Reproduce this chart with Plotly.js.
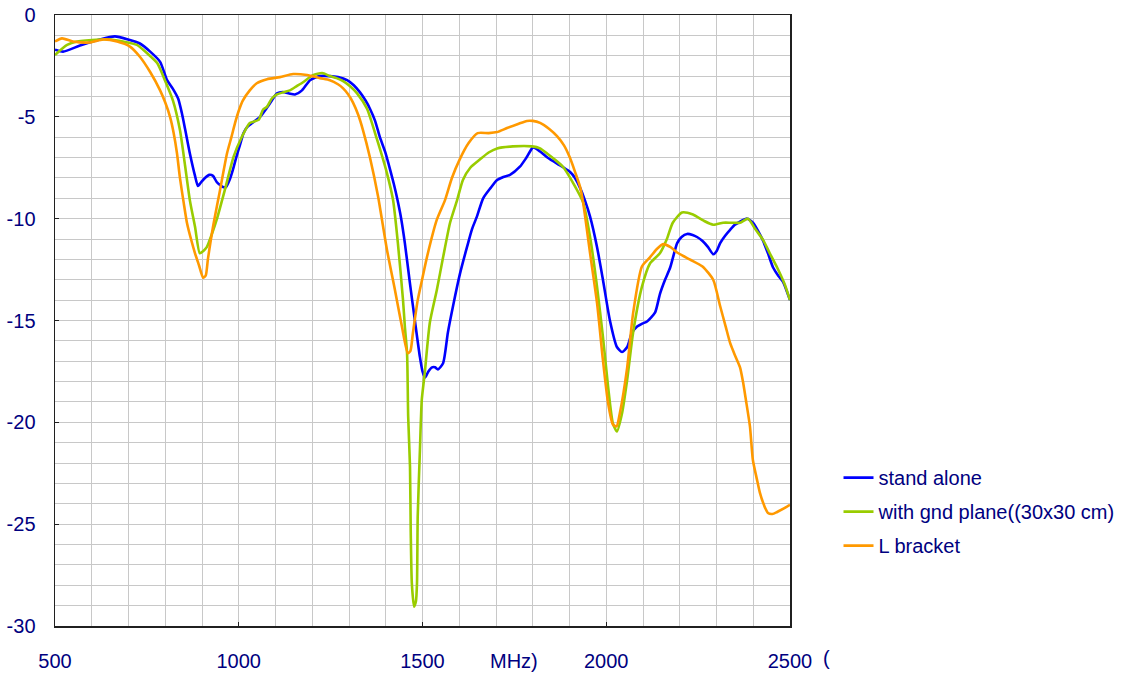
<!DOCTYPE html>
<html>
<head>
<meta charset="utf-8">
<script src="https://cdn.plot.ly/plotly-3.0.1.min.js"></script>
<style>html,body{margin:0;padding:0;background:#fff;}#chart{width:1134px;height:677px;}</style>
</head>
<body>
<div id="chart"></div>
<script>
// Frequency (MHz) and return loss (dB)
const standAloneF = [500,522,568,622,663,699,731,759,786,805,820,835,845,854,867,881,889,898,908,920,930,940,949,957,965,975,984,993,1003,1013,1023,1040,1058,1075,1090,1104,1120,1137,1153,1172,1194,1221,1248,1270,1295,1313,1330,1345,1357,1371,1384,1398,1412,1422,1431,1442,1452,1466,1480,1493,1500,1507,1516,1526,1534,1542,1556,1569,1583,1602,1621,1635,1648,1665,1685,1703,1720,1738,1765,1783,1801,1820,1840,1866,1885,1901,1915,1929,1942,1956,1975,1991,2010,2029,2043,2057,2070,2084,2098,2111,2133,2146,2160,2174,2193,2205,2220,2235,2247,2262,2277,2291,2300,2310,2323,2337,2350,2364,2383,2399,2413,2427,2440,2454,2468,2481,2500];
const standAloneDb = [-1.7,-1.8,-1.5,-1.2,-1.05,-1.2,-1.4,-1.8,-2.3,-3.2,-3.6,-4.1,-4.8,-5.6,-6.8,-7.9,-8.4,-8.2,-8.0,-7.85,-7.9,-8.2,-8.35,-8.45,-8.45,-8.1,-7.6,-7.0,-6.4,-5.8,-5.5,-5.25,-5.0,-4.6,-4.2,-3.85,-3.78,-3.85,-3.9,-3.7,-3.2,-3.0,-3.0,-3.05,-3.2,-3.45,-3.8,-4.2,-4.6,-5.2,-6.0,-6.7,-7.6,-8.3,-9.0,-10.0,-11.2,-13.2,-15.1,-16.8,-17.5,-17.8,-17.5,-17.3,-17.3,-17.4,-17.1,-15.6,-14.3,-12.7,-11.4,-10.5,-9.9,-9.0,-8.5,-8.1,-7.95,-7.85,-7.45,-7.0,-6.5,-6.7,-7.0,-7.3,-7.5,-7.7,-8.0,-8.5,-9.1,-9.9,-11.4,-13.0,-15.0,-16.3,-16.55,-16.3,-15.6,-15.3,-15.15,-15.05,-14.6,-13.7,-13.0,-12.4,-11.2,-10.9,-10.75,-10.8,-10.9,-11.1,-11.4,-11.75,-11.6,-11.2,-10.85,-10.55,-10.3,-10.15,-10.0,-10.2,-10.6,-11.1,-11.7,-12.4,-12.8,-13.1,-14.0];

const gndPlaneF = [500,533,560,622,650,685,723,750,778,799,821,840,854,867,881,894,903,913,926,940,962,986,1008,1030,1054,1066,1077,1090,1104,1120,1139,1157,1175,1202,1227,1248,1266,1284,1303,1322,1349,1376,1403,1420,1433,1447,1452,1458,1461,1466,1468,1471,1477,1482,1485,1487,1493,1498,1506,1520,1539,1556,1575,1594,1610,1630,1656,1680,1703,1746,1798,1820,1839,1860,1882,1910,1937,1956,1975,1991,2005,2018,2029,2043,2057,2073,2097,2119,2146,2165,2181,2206,2236,2265,2291,2318,2340,2364,2386,2405,2427,2445,2465,2485,2500];
const gndPlaneDb = [-1.96,-1.47,-1.3,-1.2,-1.2,-1.3,-1.47,-1.87,-2.36,-3.2,-4.2,-5.65,-7.4,-9.1,-10.4,-11.7,-11.6,-11.4,-10.8,-10.05,-8.6,-6.95,-6.0,-5.3,-5.15,-4.65,-4.5,-4.1,-3.9,-3.8,-3.7,-3.5,-3.3,-2.95,-2.85,-3.0,-3.1,-3.25,-3.5,-3.85,-4.6,-6.1,-7.75,-9.1,-11.2,-14.0,-15.3,-16.6,-19.7,-22.2,-25.4,-27.9,-29.05,-28.8,-27.9,-24.6,-21.35,-18.9,-17.6,-15.1,-13.5,-11.9,-10.2,-9.1,-8.1,-7.5,-7.1,-6.75,-6.55,-6.45,-6.45,-6.55,-6.8,-7.1,-7.45,-8.25,-9.2,-10.9,-13.35,-15.8,-18.25,-20.05,-20.45,-19.55,-17.9,-15.6,-13.35,-12.2,-11.7,-11.0,-10.2,-9.7,-9.8,-10.1,-10.3,-10.2,-10.2,-10.2,-10.0,-10.5,-11.05,-11.7,-12.4,-13.2,-14.0];

const lBracketF = [500,519,549,595,631,669,704,731,759,786,800,813,823,832,840,850,859,870,881,892,903,910,916,930,949,968,980,990,1000,1011,1030,1049,1077,1112,1148,1186,1221,1248,1270,1284,1298,1311,1325,1338,1357,1379,1403,1425,1444,1460,1467,1474,1487,1500,1512,1539,1561,1580,1601,1625,1650,1680,1703,1730,1760,1784,1800,1820,1845,1866,1885,1901,1915,1929,1937,1956,1975,1991,2005,2018,2028,2037,2057,2073,2097,2119,2137,2155,2175,2192,2227,2262,2291,2310,2325,2337,2350,2364,2372,2380,2391,2399,2410,2418,2430,2440,2452,2465,2486,2500];
const lBracketDb = [-1.3,-1.15,-1.3,-1.35,-1.2,-1.3,-1.55,-2.05,-2.8,-3.7,-4.3,-5.0,-5.8,-6.8,-8.0,-9.2,-10.2,-11.0,-11.7,-12.3,-12.9,-12.8,-12.0,-10.4,-8.6,-6.8,-6.0,-5.3,-4.7,-4.2,-3.7,-3.35,-3.15,-3.05,-2.9,-2.95,-3.1,-3.2,-3.4,-3.6,-3.9,-4.3,-4.9,-5.65,-7.0,-8.9,-11.5,-13.5,-15.3,-16.6,-16.5,-15.6,-14.0,-12.9,-11.9,-10.05,-9.1,-8.0,-7.1,-6.3,-5.8,-5.8,-5.75,-5.55,-5.35,-5.2,-5.2,-5.3,-5.6,-5.95,-6.4,-7.0,-7.7,-8.45,-9.2,-11.7,-14.15,-16.95,-19.05,-20.1,-20.2,-19.55,-17.3,-14.65,-12.35,-11.9,-11.5,-11.25,-11.4,-11.65,-12.0,-12.35,-13.0,-14.3,-15.3,-16.1,-16.7,-17.3,-18.0,-18.9,-20.2,-21.85,-22.8,-23.45,-24.1,-24.45,-24.5,-24.4,-24.2,-24.05];

const seriesNames = ['stand alone','with gnd plane((30x30 cm)','L bracket'];
const xTickVals = [500,1000,1500,2000,2500];
const xTickText = ['500','1000','1500','2000','2500'];
const yTickVals = [0,-5,-10,-15,-20,-25,-30];
const yTickText = ['0','-5','-10','-15','-20','-25','-30'];

const navy = '#000080';
const font = 'Liberation Sans, Arial, sans-serif';

const traces = [
  {x: standAloneF, y: standAloneDb, name: seriesNames[0], legendgroup:'a', line:{color:'#0000ff', width:2.6}},
  {x: gndPlaneF, y: gndPlaneDb, name: seriesNames[1], legendgroup:'b', line:{color:'#99cc00', width:2.6}},
  {x: lBracketF, y: lBracketDb, name: seriesNames[2], legendgroup:'c', line:{color:'#ff9900', width:2.6}}
].map(t => Object.assign({type:'scatter', mode:'lines'}, t, {line:Object.assign({shape:'spline', smoothing:0.6}, t.line)}));

const layout = {
  width:1134, height:677,
  margin:{l:55, r:344, t:15, b:51, pad:0, autoexpand:false},
  paper_bgcolor:'#ffffff', plot_bgcolor:'#ffffff',
  font:{family:font, size:20, color:navy},
  showlegend:true,
  legend:{x:1.066, xanchor:'left', y:0.2747, yanchor:'top', bgcolor:'rgba(0,0,0,0)',
          font:{family:font, size:20, color:navy}, tracegroupgap:5, traceorder:'grouped'},
  xaxis:{range:[500,2500], tickmode:'array', tickvals:xTickVals, ticktext:xTickText,
         ticks:'inside', ticklen:4, tickcolor:'#202020', showline:true, linecolor:'#202020', linewidth:1.5, mirror:true,
         showgrid:true, gridcolor:'#c8c8c8', gridwidth:1, zeroline:false,
         minor:{dtick:100, tick0:500, showgrid:true, gridcolor:'#c8c8c8', gridwidth:1},
         ticklabelstandoff:16, tickfont:{family:font, size:20, color:navy}},
  yaxis:{range:[-30,0], tickmode:'array', tickvals:yTickVals, ticktext:yTickText,
         ticks:'inside', ticklen:4, tickcolor:'#202020', showline:true, linecolor:'#202020', linewidth:1.5, mirror:true,
         showgrid:true, gridcolor:'#c8c8c8', gridwidth:1, zeroline:false,
         minor:{dtick:1, tick0:0, showgrid:true, gridcolor:'#c8c8c8', gridwidth:1},
         ticklabelstandoff:14, tickfont:{family:font, size:20, color:navy}},
  annotations:[
    {text:'MHz)', xref:'x', yref:'paper', x:1750, y:-0.057, xanchor:'center', yanchor:'middle', showarrow:false,
     font:{family:font, size:20, color:navy}},
    {text:'(', xref:'paper', yref:'paper', x:1.05, y:-0.052, xanchor:'center', yanchor:'middle', showarrow:false,
     font:{family:font, size:20, color:navy}}
  ]
};

Plotly.newPlot('chart', traces, layout, {displayModeBar:false, staticPlot:true});
</script>
</body>
</html>
